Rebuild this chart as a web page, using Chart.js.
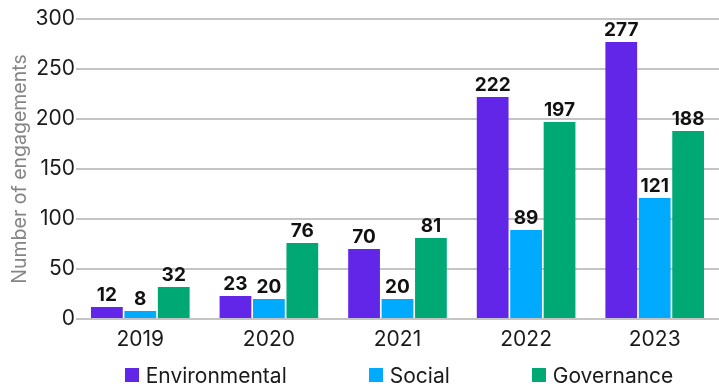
<!DOCTYPE html>
<html>
<head>
<meta charset="utf-8">
<script src="https://cdn.jsdelivr.net/npm/chart.js@4.4.1/dist/chart.umd.min.js"></script>
<style>
  html, body { margin: 0; padding: 0; background: #fff; }
  #wrap { position: relative; width: 719px; height: 387px; }
  #legend {
    position: absolute; left: 76px; top: 363px; width: 646px;
    display: flex; justify-content: center; gap: 82px;
    font: 21px Inter, sans-serif; color: #1a1a1a;
  }
  #legend .item { display: flex; align-items: center; height: 24px; }
  #legend .box { width: 14px; height: 14px; margin-right: 7px; }
</style>
</head>
<body>
<div id="wrap">
  <canvas id="chart" width="719" height="387"></canvas>
  <div id="legend"></div>
</div>
<script>
// --- Engagement counts by theme ---
const years = ['2019', '2020', '2021', '2022', '2023'];
const environmental = [12, 23, 70, 222, 277];
const social = [8, 20, 20, 89, 121];
const governance = [32, 76, 81, 197, 188];
const yTicks = [0, 50, 100, 150, 200, 250, 300];

const colors = { env: '#6226e8', soc: '#00aaff', gov: '#00a874' };
const fontFamily = 'Inter, sans-serif';

// value labels above each bar
const barValues = {
    id: 'barValues',
    afterDatasetsDraw(chart) {
        const ctx = chart.ctx;
        ctx.save();
        ctx.font = `bold 19px ${fontFamily}`;
        ctx.fillStyle = '#111';
        ctx.textAlign = 'center';
        ctx.textBaseline = 'bottom';
        chart.data.datasets.forEach((ds, i) => {
            chart.getDatasetMeta(i).data.forEach((bar, j) => {
                ctx.fillText(ds.data[j], bar.x, bar.y - 2);
            });
        });
        ctx.restore();
    }
};

const chart = new Chart(document.getElementById('chart').getContext('2d'), {
    type: 'bar',
    data: {
        labels: years,
        datasets: [
            { label: 'Environmental', data: environmental, backgroundColor: colors.env },
            { label: 'Social', data: social, backgroundColor: colors.soc },
            { label: 'Governance', data: governance, backgroundColor: colors.gov }
        ]
    },
    options: {
        responsive: false,
        animation: false,
        categoryPercentage: 0.78,
        barPercentage: 0.95,
        layout: { padding: { top: 19, right: -3, bottom: 38, left: 0 } },
        plugins: {
            legend: { display: false },
            tooltip: { enabled: false }
        },
        scales: {
            x: {
                grid: { display: false },
                border: { display: false },
                ticks: { color: '#1a1a1a', font: { family: fontFamily, size: 21 }, padding: 0 },
                afterFit: (scale) => { scale.height = 30; }
            },
            y: {
                min: 0,
                max: 300,
                afterBuildTicks: (scale) => { scale.ticks = yTicks.map(v => ({ value: v })); },
                grid: { color: '#c4c4c4', lineWidth: 2, drawTicks: false },
                border: { display: false },
                ticks: { color: '#1a1a1a', font: { family: fontFamily, size: 21 }, padding: 1 },
                title: {
                    display: true,
                    text: 'Number of engagements',
                    color: '#858585',
                    font: { family: fontFamily, size: 19.5 },
                    padding: { top: 8, bottom: 0 }
                },
                afterFit: (scale) => { scale.width = 76; }
            }
        }
    },
    plugins: [barValues]
});

// legend row built from the datasets
const legendEl = document.getElementById('legend');
chart.data.datasets.forEach(ds => {
    const item = document.createElement('div');
    item.className = 'item';
    const box = document.createElement('span');
    box.className = 'box';
    box.style.background = ds.backgroundColor;
    item.appendChild(box);
    item.appendChild(document.createTextNode(ds.label));
    legendEl.appendChild(item);
});
</script>
</body>
</html>
